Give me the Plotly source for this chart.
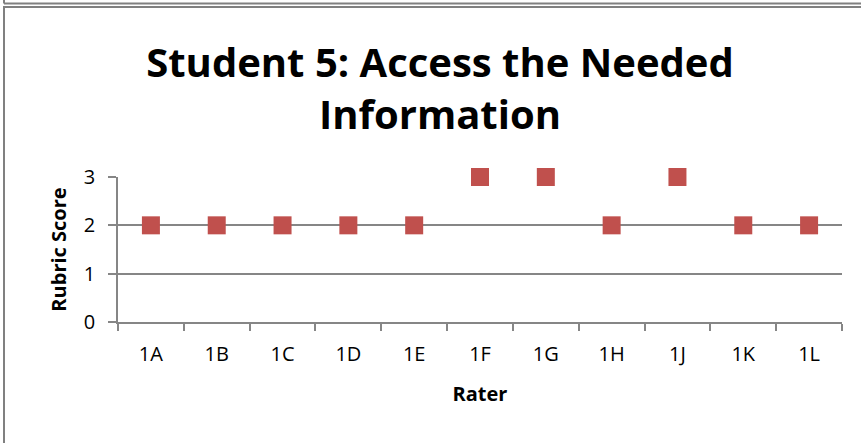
import plotly.graph_objects as go

raters = ['1A', '1B', '1C', '1D', '1E', '1F', '1G', '1H', '1J', '1K', '1L']
scores = [2, 2, 2, 2, 2, 3, 3, 2, 3, 2, 2]

W, H = 861, 443
L, R, T, B = 118, 19, 177, 121
pw, ph = W - L - R, H - T - B


def px(x):
    return (x - L) / pw


def py(y):
    return (H - B - y) / ph


grey = '#808080'
axis_grey = '#868686'
font = 'Open Sans'

fig = go.Figure()
fig.add_trace(go.Scatter(
    x=raters, y=scores, mode='markers', cliponaxis=False,
    marker=dict(symbol='square', size=18, color='#C0504D'),
    showlegend=False,
))

# chart frame, plus the bottom edge of the chart above it
fig.add_shape(type='line', xref='paper', yref='paper',
              x0=px(4), x1=px(870), y0=py(3.5), y1=py(3.5),
              line=dict(color=grey, width=2))
fig.add_shape(type='line', xref='paper', yref='paper',
              x0=px(4), x1=px(4), y0=py(-5), y1=py(3.5),
              line=dict(color=grey, width=2))
fig.add_shape(type='rect', xref='paper', yref='paper',
              x0=px(4), x1=px(870), y0=py(7), y1=py(460),
              line=dict(color=grey, width=2))

fig.update_layout(
    width=W, height=H,
    margin=dict(l=L, r=R, t=T, b=B, autoexpand=False),
    paper_bgcolor='white', plot_bgcolor='white',
    font=dict(family=font, color='black'),
    title=dict(text='<b>Student 5: Access the Needed<br>Information</b>',
               x=440 / W, xanchor='center', xref='container',
               y=1 - 77 / H, yanchor='middle', yref='container',
               font=dict(size=40, family=font, color='black')),
)
fig.update_xaxes(
    type='category', range=[-0.5, 10.5], automargin=False,
    showline=True, linecolor=axis_grey, linewidth=1.5,
    ticks='outside', tickson='boundaries', ticklen=7, tickcolor=axis_grey, tickwidth=1.5,
    showgrid=False, tickfont=dict(size=20),
    ticklabelstandoff=13,
    title=dict(text='<b>Rater</b>', font=dict(size=20), standoff=21),
)
fig.update_yaxes(
    range=[0, 3], tickvals=[0, 1, 2, 3], automargin=False,
    showline=True, linecolor=axis_grey, linewidth=1.5,
    ticks='outside', ticklen=8, tickcolor=axis_grey, tickwidth=1.5,
    showgrid=True, gridcolor=axis_grey, gridwidth=1.5, zeroline=False,
    tickfont=dict(size=20), ticklabelstandoff=9,
    title=dict(text='<b>Rubric Score</b>', font=dict(size=20), standoff=12),
)

# drop the default page margin so the figure fills the window
fig.write_html('out.html', config={'displayModeBar': False},
               post_script="document.body.style.margin='0';")
